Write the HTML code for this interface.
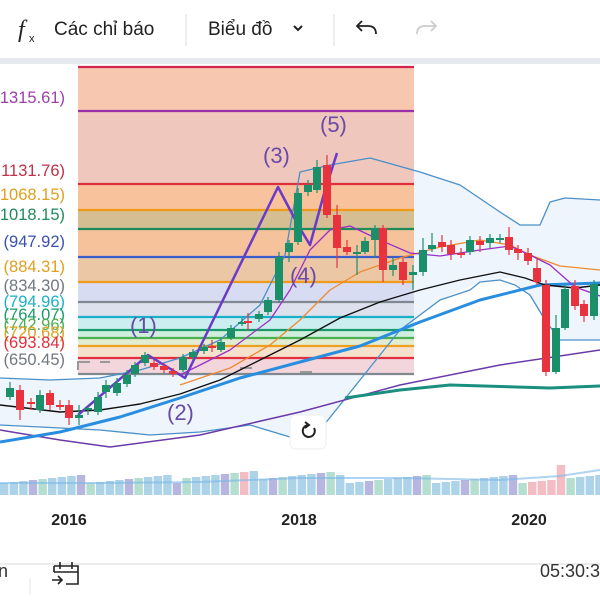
<!DOCTYPE html>
<html><head><meta charset="utf-8"><style>
html,body{margin:0;padding:0;background:#fff;width:600px;height:600px;overflow:hidden;font-family:"Liberation Sans","Noto Sans CJK SC",sans-serif}
svg{position:absolute;left:0;top:0}
</style></head><body>
<svg id="s" width="600" height="600" viewBox="0 0 600 600" xmlns="http://www.w3.org/2000/svg">
<rect width="600" height="600" fill="#fff"/>
<text x="18" y="37" font-family="Liberation Serif,serif" font-size="24" font-style="italic" fill="#222">f</text>
<text x="29" y="42" font-size="11" fill="#222">x</text>
<text x="54" y="35" font-size="19" fill="#222">Các chỉ báo</text>
<line x1="186" y1="14" x2="186" y2="46" stroke="#ddd"/>
<text x="208" y="35" font-size="19" fill="#222">Biểu đồ</text>
<path d="M294 26 l4 4 l4 -4" stroke="#222" stroke-width="2" fill="none"/>
<line x1="334" y1="14" x2="334" y2="46" stroke="#ddd"/>
<path d="M376 34 q0 -8 -8 -8 h-10 M362 21 l-5 5 l5 5" stroke="#222" stroke-width="1.8" fill="none"/>
<path d="M417 34 q0 -8 8 -8 h10 M431 21 l5 5 l-5 5" stroke="#ccc" stroke-width="1.8" fill="none"/>
<rect x="0" y="58" width="600" height="6" fill="#e6e9ef"/>
<path d="M0 378 L50 380 L100 378 L140 370 L180 358 L220 340 L260 305 L285 255 L300 172 L330 165 L370 158 L420 172 L460 185 L500 212 L520 225 L540 225 L550 202 L565 198 L600 200 L600 340 L560 340 L545 320 L530 295 L510 278 L480 282 L440 300 L400 330 L360 380 L320 430 L300 440 L250 425 L200 432 L150 435 L100 430 L0 425 Z" fill="#eef5fc"/>
<rect x="78" y="67" width="336" height="117" fill="#f7c7b0"/>
<rect x="78" y="111" width="336" height="73" fill="#efc7bd"/>
<rect x="78" y="184" width="336" height="26" fill="#f8c29c"/>
<rect x="78" y="210" width="336" height="19" fill="#d6be93"/>
<rect x="78" y="229" width="336" height="28" fill="#f6c29c"/>
<rect x="78" y="257" width="336" height="25" fill="#ecc7a6"/>
<rect x="78" y="282" width="336" height="20" fill="#d7dcf3"/>
<rect x="78" y="302" width="336" height="15" fill="#dde1ee"/>
<rect x="78" y="317" width="336" height="13" fill="#cdeef0"/>
<rect x="78" y="330" width="336" height="8" fill="#cfeedd"/>
<rect x="78" y="338" width="336" height="8" fill="#e2ecd0"/>
<rect x="78" y="346" width="336" height="12" fill="#f6e2cc"/>
<rect x="78" y="358" width="336" height="16" fill="#f2d6dc"/>
<g stroke-width="2.2">
<line x1="78" y1="67" x2="414" y2="67" stroke="#d2254d"/>
<line x1="78" y1="111" x2="414" y2="111" stroke="#9c30a8"/>
<line x1="78" y1="184" x2="414" y2="184" stroke="#e03040"/>
<line x1="78" y1="210" x2="414" y2="210" stroke="#f09a1a"/>
<line x1="78" y1="229" x2="414" y2="229" stroke="#1f8a5a"/>
<line x1="78" y1="257" x2="414" y2="257" stroke="#3a5ccc"/>
<line x1="78" y1="282" x2="414" y2="282" stroke="#f09a1a"/>
<line x1="78" y1="302" x2="414" y2="302" stroke="#808890"/>
<line x1="78" y1="317" x2="414" y2="317" stroke="#1ab0c8"/>
<line x1="78" y1="330" x2="414" y2="330" stroke="#1a9a6a"/>
<line x1="78" y1="338" x2="414" y2="338" stroke="#4caf50"/>
<line x1="78" y1="346" x2="414" y2="346" stroke="#f0a020"/>
<line x1="78" y1="358" x2="414" y2="358" stroke="#e03040"/>
<line x1="78" y1="374" x2="414" y2="374" stroke="#808890"/>
</g>
<path d="M78 370 v-8 h12 M100 362 h10 M240 368 h12 M300 372 h12" stroke="#999" stroke-width="2" fill="none"/>
<g font-size="16.5" text-anchor="end">
<text x="65" y="103" fill="#9c40a8">1315.61)</text>
<text x="65" y="176" fill="#c0304a">1131.76)</text>
<text x="65" y="200" fill="#e0a020">1068.15)</text>
<text x="65" y="220" fill="#1f8a5a">1018.15)</text>
<text x="65" y="247" fill="#3a50b0">(947.92)</text>
<text x="65" y="272" fill="#e0a020">(884.31)</text>
<text x="65" y="291" fill="#707880">(834.30)</text>
<text x="65" y="307" fill="#1ab0c8">(794.96)</text>
<text x="65" y="320" fill="#1a9a6a">(764.07)</text>
<text x="65" y="330" fill="#4caf50">(742.96)</text>
<text x="65" y="338" fill="#e0a020">(720.68)</text>
<text x="65" y="348" fill="#e03040">(693.84)</text>
<text x="65" y="365" fill="#707880">(650.45)</text>
</g>
<g fill="none" stroke-linejoin="round">
<polyline stroke="#4a90c8" stroke-width="1.3" points="0,378 50,380 100,378 140,370 180,358 220,340 260,305 285,255 300,172 330,165 370,158 420,172 460,185 500,212 520,225 540,225 550,202 565,198 600,200"/>
<polyline stroke="#4a90c8" stroke-width="1.3" points="0,425 100,430 150,435 200,432 250,425 300,440 320,430 360,380 400,330 440,300 470,290 480,282 500,280 515,285 530,295 545,320 560,340 600,340"/>
<polyline stroke="#6a3aa8" stroke-width="1.5" points="0,430 60,440 110,447 200,435 300,412 400,385 500,365 600,350"/>
<polyline stroke="#1a8f80" stroke-width="3" points="345,398 400,390 450,385 550,388 600,386"/>
<polyline stroke="#2a8ee0" stroke-width="3" points="0,442 60,432 120,417 180,398 240,378 300,362 360,346 420,322 480,300 540,285 600,283"/>
<polyline stroke="#111" stroke-width="1.4" points="0,405 60,412 100,410 140,404 180,394 220,380 260,360 300,340 340,318 380,302 420,290 460,280 500,272 525,278 545,285 575,288 600,285"/>
<polyline stroke="#f08a30" stroke-width="1.3" points="180,385 230,368 270,345 300,320 330,290 360,272 400,258 440,247 480,240 510,245 530,255 560,266 600,270"/>
<polyline stroke="#9a30c8" stroke-width="1.3" points="180,375 230,350 270,320 290,290 310,250 330,230 350,226 380,240 410,253 440,256 480,250 510,246 530,255 550,265 575,287 600,296"/>
<polyline stroke="#6a3ac8" stroke-width="2.5" points="78,415 148,355 185,378 278,187 298,225 310,245 325,190 330,175 337,153"/>
</g>
<g font-size="22" fill="#6a4aa8">
<text x="130" y="333">(1)</text>
<text x="167" y="420">(2)</text>
<text x="263" y="163">(3)</text>
<text x="290" y="283">(4)</text>
<text x="320" y="132">(5)</text>
</g>
<g id="c"></g>
<g id="v"></g>
<rect x="290" y="415" width="36" height="34" rx="6" fill="#fff" stroke="#eee"/>
<path d="M314 428 a6 6 0 1 1 -6 -3" stroke="#222" stroke-width="2" fill="none"/>
<path d="M305 422 l4 3 l-4 3" stroke="#222" stroke-width="2" fill="none"/>
<g font-size="16" font-weight="bold" fill="#222" text-anchor="middle">
<text x="69" y="525">2016</text><text x="299" y="525">2018</text><text x="529" y="525">2020</text>
</g>
<line x1="0" y1="564" x2="600" y2="564" stroke="#e6e6e6" stroke-width="1.5"/>
<text x="-2" y="577" font-size="18" fill="#333">n</text>
<line x1="30" y1="578" x2="30" y2="595" stroke="#e6e6e6"/>
<path d="M54 566 h24 v18 h-12 M54 566 v6 M54 572 h24 M60 562 v7 M72 562 v7 M52 580 h10 M58 576 l4 4 l-4 4" stroke="#222" stroke-width="1.6" fill="none"/>
<text x="540" y="577" font-size="18" fill="#333">05:30:3</text>
</svg>
<script>
var NS="http://www.w3.org/2000/svg";
function el(p,t,a){var e=document.createElementNS(NS,t);for(var k in a)e.setAttribute(k,a[k]);p.appendChild(e);}
var G="#1a8f6a",R="#e8323e";
var c=[[10,388,397,382,400,G],[20,390,410,385,420,R],[31,402,404,398,410,R],[40,395,410,390,413,G],[50,393,405,390,410,R],[60,405,407,400,410,R],[69,405,418,400,425,R],[79,415,418,405,425,G],[88,408,410,405,415,G],[98,397,412,392,415,G],[106,385,392,380,398,G],[117,383,393,378,396,G],[127,375,384,370,387,G],[135,365,374,362,377,G],[145,355,363,352,366,G],[154,363,367,360,370,R],[164,366,370,363,373,R],[173,371,374,368,377,R],[183,357,370,354,372,G],[193,352,357,349,360,G],[204,347,351,344,354,G],[212,346,348,340,352,R],[221,342,350,338,352,G],[231,328,338,325,340,G],[242,322,324,318,326,G],[248,321,323,313,330,R],[259,314,319,311,322,G],[268,300,312,297,315,G],[279,257,300,252,303,G],[289,243,252,240,262,G],[298,193,242,188,245,G],[308,185,192,180,196,G],[317,167,190,160,193,G],[327,165,215,155,218,R],[337,215,248,205,268,R],[347,247,252,240,255,R],[357,252,254,245,275,G],[365,241,252,237,254,G],[375,228,240,225,258,G],[383,228,270,225,282,R],[393,265,270,258,276,G],[403,262,280,258,285,R],[413,272,275,265,290,G],[423,250,272,238,276,G],[432,245,249,233,252,G],[442,242,247,235,252,R],[451,245,254,240,260,R],[461,253,255,248,258,R],[470,240,252,236,255,G],[480,241,245,236,252,R],[490,238,243,234,248,G],[500,238,240,234,243,G],[509,237,250,227,255,R],[518,249,253,245,260,R],[528,253,261,248,265,R],[537,268,282,258,285,R],[546,285,372,280,376,R],[556,328,372,315,374,G],[565,289,328,285,330,G],[575,286,306,280,310,R],[584,304,316,300,322,R],[594,284,316,280,320,G]];
var g=document.getElementById("c");
c.forEach(function(d){el(g,"line",{x1:d[0],x2:d[0],y1:d[3],y2:d[4],stroke:d[5],"stroke-width":1.2});el(g,"rect",{x:d[0]-4,y:d[1],width:8,height:Math.max(2,d[2]-d[1]),fill:d[5]});});
var v=document.getElementById("v");
for(var i=0;i<63;i++){var x=i*9.6;var h=12+((i*37)%9);if(i>18&&i<35)h+=4;var col=["#9dcbe6","#a9a9d8","#9dcbe6","#a7d8c7","#9dcbe6"][(i*7)%5];if(i==25||i==57||i==58)col="#f2b2ba";if(i==55||i==56)col="#f2b2ba";if(i==58)h=30;
el(v,"rect",{x:x,y:495-h,width:8.4,height:h,fill:col,opacity:0.85});}
el(v,"polyline",{points:"0,483 100,483 200,482 300,478 400,478 500,480 560,476 600,470",fill:"none",stroke:"#7ab8e8","stroke-width":2,opacity:0.6});
</script>
</body></html>
